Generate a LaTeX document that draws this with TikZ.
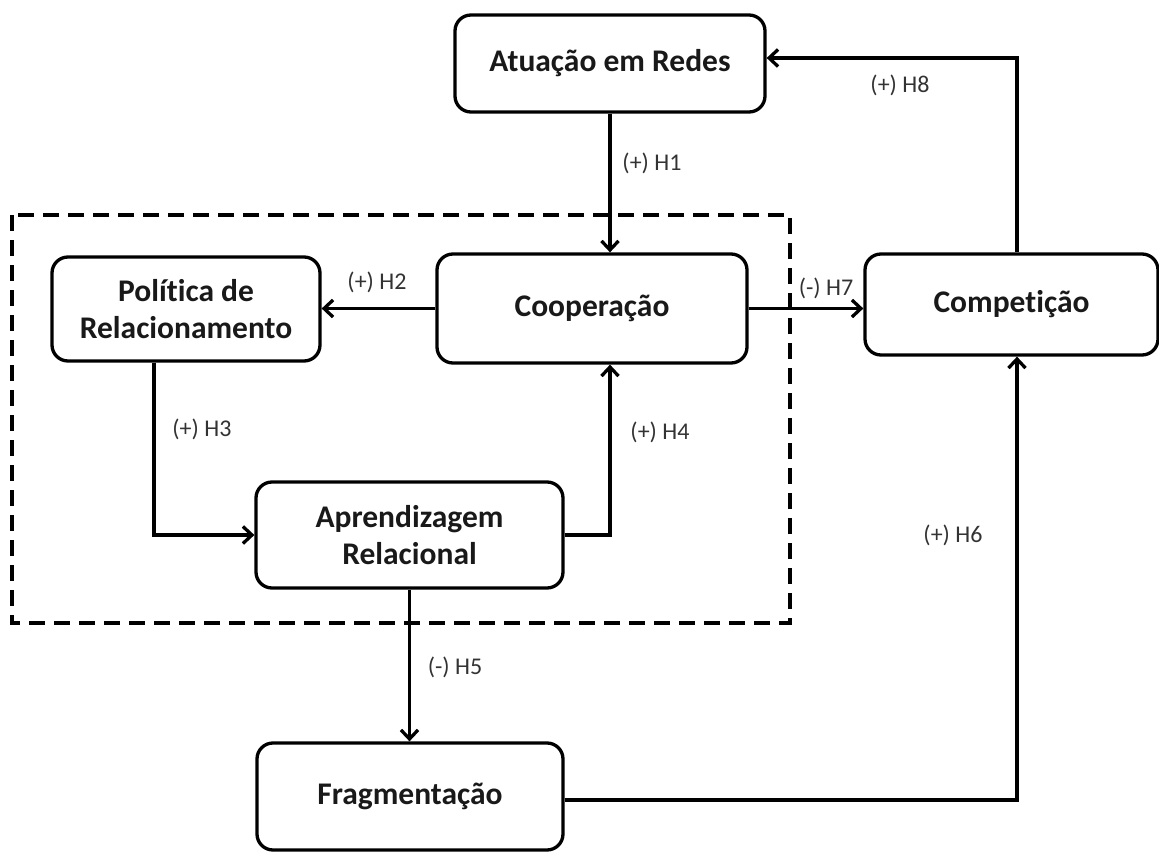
\documentclass[tikz,border=0pt]{standalone}
\usepackage{fontspec}
\setmainfont{Carlito}[Ligatures={NoCommon,NoRare},Contextuals=NoAlternate]
\usetikzlibrary{arrows.meta}
\begin{document}
\begin{tikzpicture}[x=1pt,y=-1pt,
  box/.style={draw=black, line width=3.3pt, rounded corners=16pt, inner sep=0pt,
    align=center, font=\fontsize{31.5}{37}\selectfont\bfseries, text=black!90},
  link/.style={line width=3.3pt, -{Straight Barb[length=9pt,width=17pt]}},
  lbl/.style={font=\fontsize{24}{28}\selectfont, text=black!80, inner sep=0pt},
  group/.style={line width=3.3pt, dash pattern=on 16pt off 9pt}]
\useasboundingbox (0,0) rectangle (1159,853);

% grouping frame
\draw[group] (12,215) rectangle (790,623);

% constructs
\node[box, minimum width=310pt, minimum height=97pt]  (atu)  at (610,63.5)    {Atuação em Redes};
\node[box, minimum width=310pt, minimum height=109pt] (coop) at (592,308.5)   {Cooperação};
\node[box, minimum width=268pt, minimum height=104pt] (pol)  at (186,309)     {Polít\kern0pt{}ica de\\Relacionamento};
\node[box, minimum width=293pt, minimum height=101pt] (comp) at (1011.5,304.5){Compet\kern0pt{}ição};
\node[box, minimum width=307pt, minimum height=106pt] (apr)  at (409.5,535)   {Aprendizagem\\Relacional};
\node[box, minimum width=306pt, minimum height=107pt] (frag) at (410,796.5)   {Fragmentação};

% hypotheses
\draw[link] (atu.south) -- (atu.south |- coop.north);
\draw[link] (coop.west) -- (coop.west -| pol.east);
\draw[link] ([xshift=-32pt]pol.south) |- (apr.west);
\draw[link] (apr.east) -| ([xshift=18pt]coop.south);
\draw[link] (apr.south) -- (apr.south |- frag.north);
\draw[link] ([yshift=-3.5pt]frag.east) -| ([xshift=5.5pt]comp.south);
\draw[link] (coop.east) -- (coop.east -| comp.west);
\draw[link] ([xshift=5.5pt]comp.north) |- ([yshift=5.5pt]atu.east);

% hypothesis labels
\node[lbl] (h1) at (652,163) {(+) H1};
\node[lbl] (h2) at (377,282) {(+) H2};
\node[lbl] (h3) at (202,429) {(+) H3};
\node[lbl] (h4) at (660,432) {(+) H4};
\node[lbl] (h5) at (455,667) {(-) H5};
\node[lbl] (h6) at (953,535) {(+) H6};
\node[lbl] (h7) at (826,288) {(-) H7};
\node[lbl] (h8) at (900,85)  {(+) H8};
\end{tikzpicture}
\end{document}
